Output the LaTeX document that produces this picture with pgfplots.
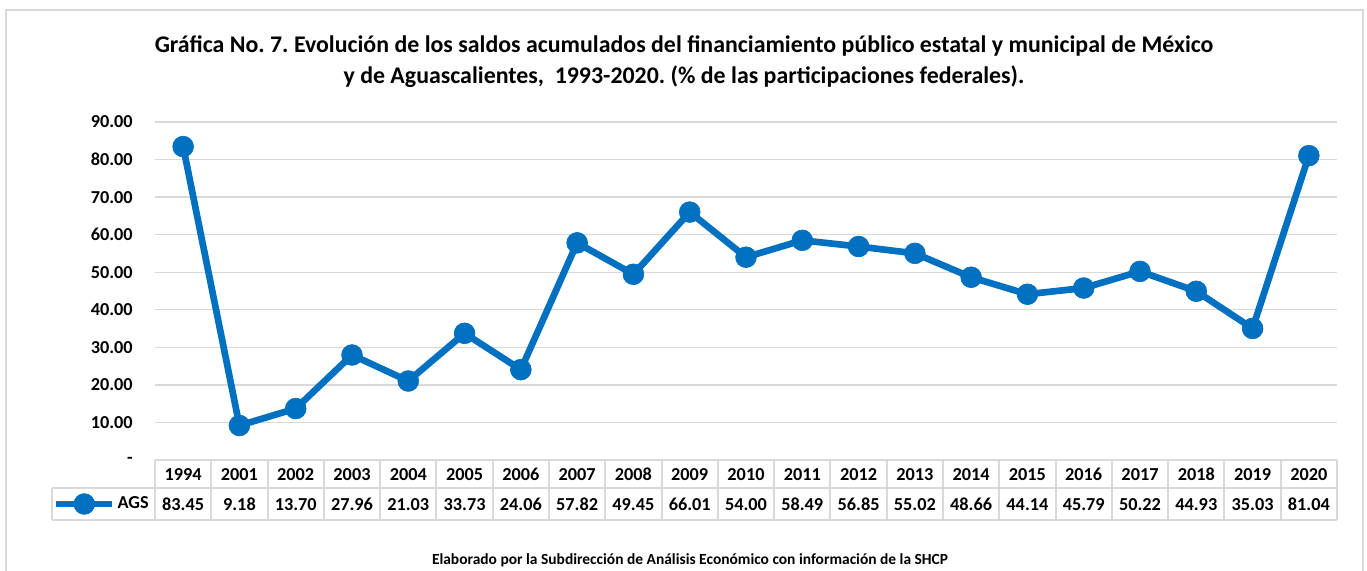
\documentclass[border=0pt]{standalone}
\usepackage{fontspec}
\setmainfont{Carlito}
\usepackage{pgfplots}
\usepackage{pgfplotstable}
\pgfplotsset{compat=1.18}
\definecolor{agsblue}{HTML}{0070C0}
\definecolor{gridgray}{HTML}{D9D9D9}
\frenchspacing

\pgfplotstableread{
idx year ags
0 1994 83.45
1 2001 9.18
2 2002 13.70
3 2003 27.96
4 2004 21.03
5 2005 33.73
6 2006 24.06
7 2007 57.82
8 2008 49.45
9 2009 66.01
10 2010 54.00
11 2011 58.49
12 2012 56.85
13 2013 55.02
14 2014 48.66
15 2015 44.14
16 2016 45.79
17 2017 50.22
18 2018 44.93
19 2019 35.03
20 2020 81.04
}\agsdata

\begin{document}
\begin{tikzpicture}
% units of one pixel, origin at the axis' lower left corner
\begin{scope}[x=0.75pt,y=0.75pt]
\useasboundingbox (-155,-111) rectangle (1212,460);
\draw[gridgray,line width=1pt] (-149,450) rectangle (1208,-140);
\node[font=\bfseries\fontsize{17.9}{20}\selectfont,anchor=base] at (529,407)
  {Gráfica No. 7. Evolución de los saldos acumulados del financiamiento público estatal y municipal de México};
\node[font=\bfseries\fontsize{17.9}{20}\selectfont,anchor=base] at (529,376)
  {y de Aguascalientes,\ \ 1993-2020. (\% de las participaciones federales).};
\node[font=\bfseries\fontsize{11.6}{13}\selectfont,anchor=base] at (535,-104)
  {Elaborado por la Subdirección de Análisis Económico con información de la SHCP};
\end{scope}

\begin{axis}[
at={(0,0)},anchor=south west,
scale only axis,width=886.5pt,height=253.5pt,
xmin=-0.5,xmax=20.5,ymin=0,ymax=90,
xtick={0,...,20},ytick={0,10,...,90},
yticklabels={-\hspace{7pt},10.00,20.00,30.00,40.00,50.00,60.00,70.00,80.00,90.00},
xticklabel={\pgfplotstablegetelem{\ticknum}{year}\of\agsdata\pgfplotsretval\\\pgfplotstablegetelem{\ticknum}{ags}\of\agsdata\pgfmathprintnumber[fixed,fixed zerofill,precision=2]{\pgfplotsretval}},
/pgf/number format/assume math mode=true,
xticklabel style={font=\bfseries\fontsize{13.7}{22.5}\selectfont,align=center,anchor=north,inner sep=0pt,yshift=-6pt},
yticklabel style={font=\bfseries\fontsize{13.7}{16}\selectfont,anchor=east,inner sep=0pt,xshift=-16.5pt},
major tick length=0pt,
axis line style={draw=none},
ymajorgrids,grid style={gridgray,line width=1pt},
clip=false,
legend style={at={(0,0)},anchor=east,xshift=-3pt,yshift=-33pt,draw=none,fill=none,
  font=\bfseries\fontsize{13.7}{16}\selectfont,inner sep=0pt,
  nodes={inner sep=1.5pt}},
legend image code/.code={\draw[#1,mark repeat=2,mark phase=2] plot coordinates {(0pt,0pt)(21pt,0pt)(42pt,0pt)};},
]
\addplot[agsblue,line width=5pt,line join=round,mark=*,mark size=7.8pt,
  mark options={solid,fill=agsblue,draw=agsblue,line width=0.5pt}]
  table[x=idx,y=ags]{\agsdata};
\addlegendentry{AGS}
\end{axis}

% data table borders
\begin{scope}[x=0.75pt,y=0.75pt,gridgray,line width=1.5pt]
\foreach \i in {0,...,21} \draw ({\i*56.2857},0) -- ({\i*56.2857},-60);
\draw (0,0) -- (1182,0);
\draw (-103,-28) -- (1182,-28);
\draw (-103,-60) -- (1182,-60);
\draw (-103,-28) -- (-103,-60);
\end{scope}
\end{tikzpicture}
\end{document}
